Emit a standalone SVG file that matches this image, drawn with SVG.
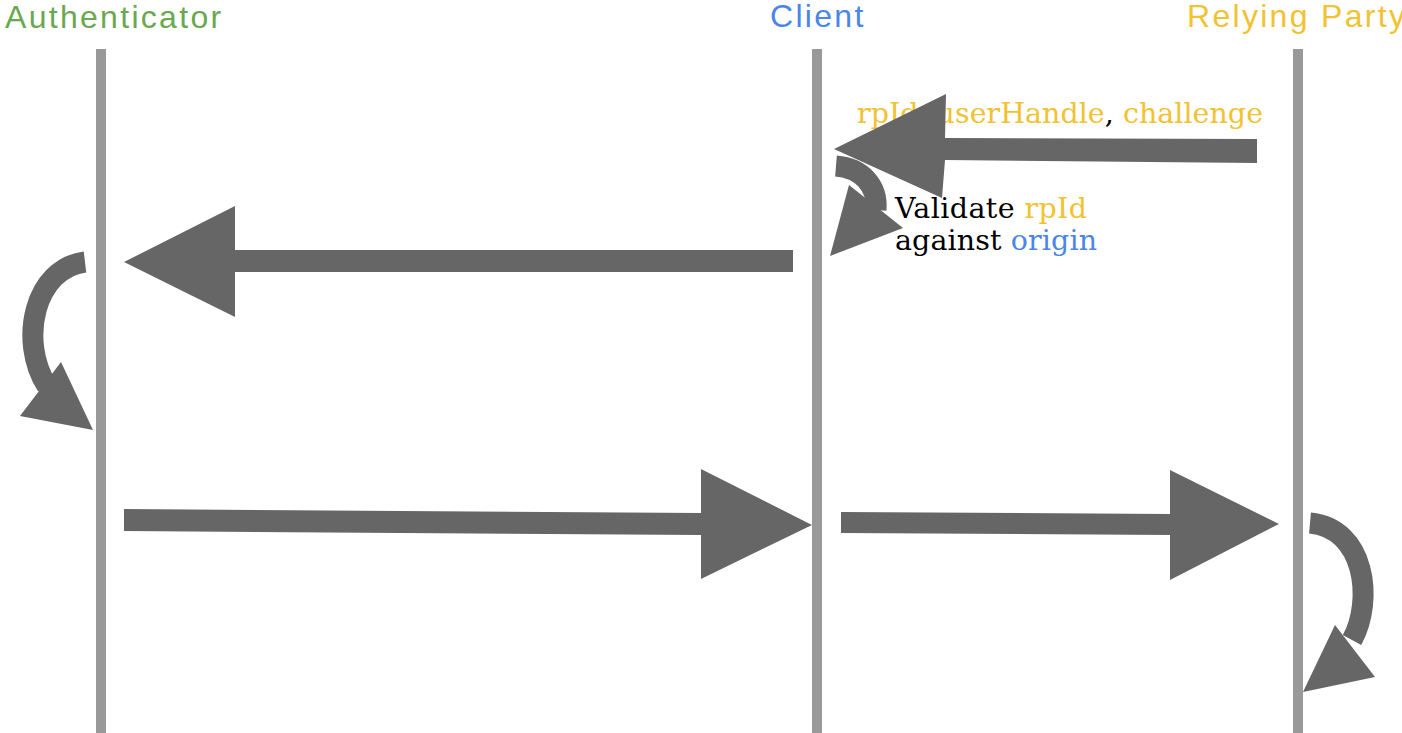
<svg xmlns="http://www.w3.org/2000/svg" width="1402" height="733" viewBox="0 0 1402 733">
  <style>
    .head { font-family: "Liberation Sans", Arial, sans-serif; font-size: 32px; letter-spacing: 2.3px; }
    .lifeline { fill: #999999; }
    .arrow { fill: #666666; }
    .curve { fill: none; stroke: #666666; stroke-width: 21; }
    .note { font-family: "DejaVu Serif", serif; font-size: 28.5px; fill: #000000; }
    .rp { fill: #f1c232; }
    .cl { fill: #4a86e8; }
  </style>
  <rect width="1402" height="733" fill="#ffffff"/>

  <g id="authenticator">
    <text class="head" x="5" y="28" fill="#6aa84f">Authenticator</text>
    <rect class="lifeline" x="96" y="49" width="10" height="684"/>
  </g>
  <g id="client">
    <text class="head" x="770" y="27" fill="#4a86e8">Client</text>
    <rect class="lifeline" x="812" y="49" width="10" height="684"/>
  </g>
  <g id="relying-party">
    <text class="head" x="1187" y="27" fill="#f1c232">Relying Party</text>
    <rect class="lifeline" x="1293" y="49" width="10" height="684"/>
  </g>

  <g id="labels">
    <text class="note" x="857" y="123" textLength="406" lengthAdjust="spacing"><tspan class="rp">rpId</tspan>, <tspan class="rp">userHandle</tspan>, <tspan class="rp">challenge</tspan></text>
    <text class="note" x="895" y="218" textLength="192" lengthAdjust="spacing">Validate <tspan class="rp">rpId</tspan></text>
    <text class="note" x="895" y="250" textLength="202" lengthAdjust="spacing">against <tspan class="cl">origin</tspan></text>
  </g>

  <g id="connectors">
    <!-- relying party to client -->
    <polygon class="arrow" points="1257,139 1257,163 945,160 942,198 834,149 946,94 945,138"/>
    <!-- client validates rpId -->
    <path class="curve" d="M836 166 C861 168 878 185 876 210"/>
    <polygon class="arrow" points="849,185 903,228 830,256"/>
    <!-- client to authenticator -->
    <polygon class="arrow" points="793,250 793,272 235,272 235,317 124,262 235,206 235,250"/>
    <!-- authenticator self step -->
    <path class="curve" d="M85 262 C35 268 18 340 47 386"/>
    <polygon class="arrow" points="20,416 61,362 93,430"/>
    <!-- authenticator to client -->
    <polygon class="arrow" points="124,509 701,513 701,469 812,525 701,579 701,535 124,531"/>
    <!-- client to relying party -->
    <polygon class="arrow" points="841,512 1170,514 1170,470 1279,524 1170,580 1170,535 841,533"/>
    <!-- relying party self step -->
    <path class="curve" d="M1310 523 C1365 528 1374 600 1352 640"/>
    <polygon class="arrow" points="1335,625 1375,677 1303,692"/>
  </g>
</svg>
